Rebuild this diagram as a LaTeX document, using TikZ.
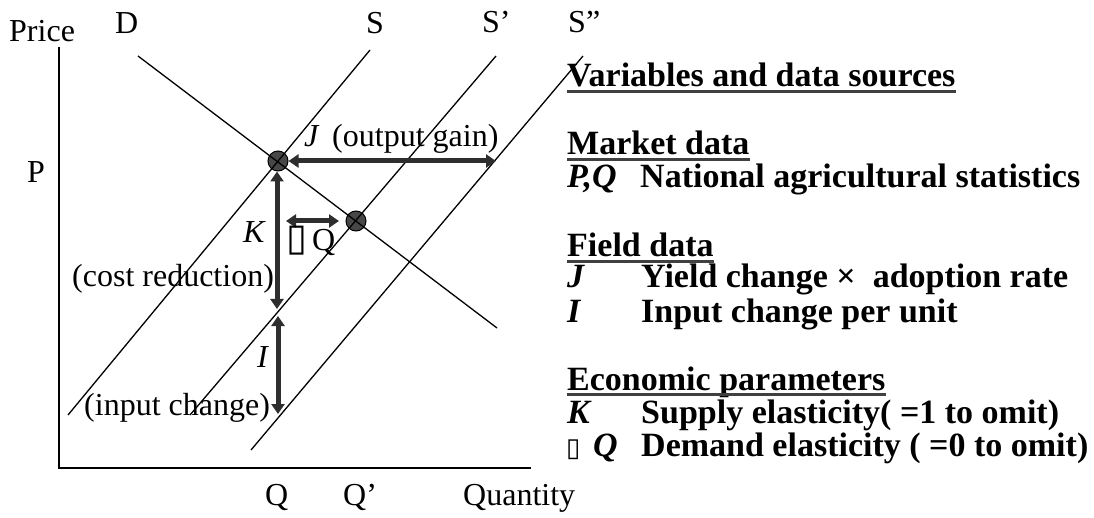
\documentclass[tikz,border=0pt]{standalone}
\usepackage{fontspec}
\setmainfont{Liberation Serif}
\newfontfamily\boxfont{DejaVu Sans}
\usetikzlibrary{arrows.meta}
\begin{document}
\begin{tikzpicture}[x=1pt,y=-1pt,
  lbl/.style={anchor=base west,inner sep=0pt,font=\fontsize{32}{38}\selectfont},
  rt/.style={anchor=base west,inner sep=0pt,font=\fontsize{34}{40}\selectfont\bfseries},
  curve/.style={line width=1.3pt,black},
  axis/.style={line width=1.8pt,black},
  ul/.style={line width=2.6pt,black!75},
  dot/.style={circle,draw=black,line width=1pt,fill=black!72,minimum size=20pt,inner sep=0pt},
  dbl/.style={line width=5pt,black!82,{Triangle[length=10pt,width=13pt]}-{Triangle[length=10pt,width=13pt]}}
]
\useasboundingbox (0,0) rectangle (1094,518);
% axes
\coordinate (ytop) at (59,47);
\coordinate (orig) at (59,468);
\coordinate (xend) at (531,468);
\draw[axis] (ytop) -- (orig) -- (xend);
% dots
\node[dot] (A) at (278,161) {};
\node[dot] (B) at (356,221) {};
% curves
\coordinate (D1) at (138,56);   \coordinate (D2) at (497,328);
\coordinate (S1) at (370,50);   \coordinate (S2) at (68,415);
\coordinate (Sa1) at (496,56);  \coordinate (Sa2) at (190,415);
\coordinate (Sb1) at (583,56);  \coordinate (Sb2) at (251,450);
\draw[curve] (D1) -- (D2);
\draw[curve] (S1) -- (S2);
\draw[curve] (Sa1) -- (Sa2);
\draw[curve] (Sb1) -- (Sb2);
% arrows
\coordinate (Jend) at (496,161);
\coordinate (Kend) at (277,309);
\coordinate (Itop) at (278,316);
\coordinate (Ibot) at (278,414);
\coordinate (dQ1) at (286,221);
\coordinate (dQ2) at (339,221);
\draw[dbl] (A.east) -- (Jend);
\draw[dbl] ([xshift=-1pt]A.south) -- (Kend);
\draw[dbl] (Itop) -- (Ibot);
\draw[dbl] (dQ1) -- (dQ2);
% left labels
\node[lbl] (price) at (9,42) {Price};
\node[lbl] (lD) at (115,34) {D};
\node[lbl] (lS) at (366,34) {S};
\node[lbl] (lSa) at (482,33) {S’};
\node[lbl] (lSb) at (568,33) {S”};
\node[lbl] (lP) at (27,183) {P};
\node[lbl] (lJ) at (304,147) {\textit{J}};
\node[lbl] (lJt) at (332,147) {(output gain)};
\node[lbl] (lK) at (243,243) {\textit{K}};
\node[lbl] (ldQb) at (286,251) {\boxfont\fontsize{38}{40}\selectfont ▯};
\node[lbl] (ldQ) at (312,251) {Q};
\node[lbl] (lcost) at (72,287) {(cost reduction)};
\node[lbl] (lI) at (257,367) {\textit{I}};
\node[lbl] (linput) at (84,415) {(input change)};
\node[lbl] (lQ) at (265,505) {Q};
\node[lbl] (lQa) at (343,505) {Q’};
\node[lbl] (lQty) at (463,505) {Quantity};
% right column
\node[rt] (v1) at (567,87) {Variables and data sources};
\node[rt] (v2) at (567,155) {Market data};
\node[rt] (v3a) at (567,188) {\itshape P,Q};
\node[rt] (v3b) at (640,188) {National agricultural statistics};
\node[rt] (v4) at (567,257) {Field data};
\node[rt] (v5a) at (567,288) {\itshape J};
\node[rt] (v5b) at (641,288) {Yield change ×\ \ adoption rate};
\node[rt] (v6a) at (567,323) {\itshape I};
\node[rt] (v6b) at (641,323) {Input change per unit};
\node[rt] (v7) at (567,390) {Economic parameters};
\node[rt] (v8a) at (567,423) {\itshape K};
\node[rt] (v8b) at (641,423) {Supply elasticity( =1 to omit)};
\node[rt] (v9box) at (566,456) {\boxfont\mdseries\fontsize{26}{28}\selectfont ▯};
\node[rt] (v9a) at (593,456) {\itshape Q};
\node[rt] (v9b) at (641,456) {Demand elasticity ( =0 to omit)};
% underlines
\foreach \n in {v1,v2,v4,v7}
  \draw[ul] ([yshift=-4.5pt]\n.base west) -- ([yshift=-4.5pt]\n.base east);
\end{tikzpicture}
\end{document}
